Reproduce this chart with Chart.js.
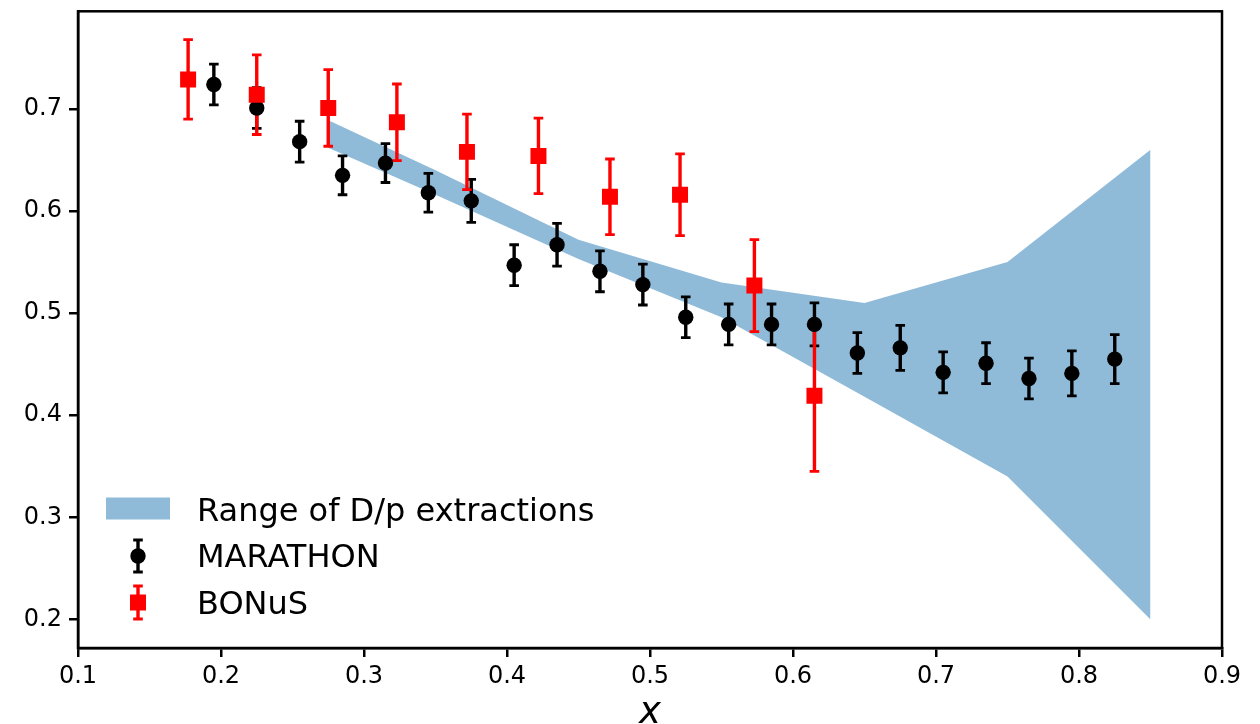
<!DOCTYPE html>
<html>
<head>
<meta charset="utf-8">
<script src="https://cdn.jsdelivr.net/npm/chart.js@4.4.1/dist/chart.umd.min.js"></script>
<style>
html,body{margin:0;padding:0;background:#fff;overflow:hidden}
canvas{display:block}
</style>
</head>
<body>
<canvas id="c" width="1260" height="724"></canvas>
<script>
// ---- data ----
const xTicks = [0.1, 0.2, 0.3, 0.4, 0.5, 0.6, 0.7, 0.8, 0.9];
const yTicks = [0.2, 0.3, 0.4, 0.5, 0.6, 0.7];

const marathonX = [0.195, 0.225, 0.255, 0.285, 0.315, 0.345, 0.375, 0.405, 0.435, 0.465, 0.495,
                   0.525, 0.555, 0.585, 0.615, 0.645, 0.675, 0.705, 0.735, 0.765, 0.795, 0.825];
const marathonY = [0.724, 0.701, 0.668, 0.635, 0.647, 0.618, 0.610, 0.547, 0.567, 0.541, 0.528,
                   0.496, 0.489, 0.489, 0.489, 0.461, 0.466, 0.442, 0.451, 0.436, 0.441, 0.455];
const marathonErr = [0.020, 0.020, 0.020, 0.019, 0.019, 0.019, 0.021, 0.020, 0.021, 0.020, 0.020,
                     0.020, 0.020, 0.020, 0.021, 0.020, 0.022, 0.020, 0.020, 0.020, 0.022, 0.024];

const bonusX = [0.177, 0.225, 0.275, 0.323, 0.372, 0.422, 0.472, 0.521, 0.573, 0.615];
const bonusY = [0.729, 0.714, 0.701, 0.687, 0.658, 0.654, 0.614, 0.616, 0.527, 0.419];
const bonusErr = [0.039, 0.039, 0.0375, 0.0375, 0.037, 0.037, 0.037, 0.040, 0.045, 0.074];

const bandX = [0.275, 0.35, 0.45, 0.55, 0.65, 0.75, 0.85];
const bandUpper = [0.689, 0.640, 0.572, 0.530, 0.510, 0.550, 0.660];
const bandLower = [0.662, 0.616, 0.553, 0.496, 0.418, 0.340, 0.200];

const legendLabels = ['Range of D/p extractions', 'MARATHON', 'BONuS'];
const xAxisLabel = 'x';

// ---- styling ----
const BAND_COLOR = 'rgba(31,119,180,0.5)';
const FONT = 'DejaVu Sans';

const toPts = (xs, ys) => xs.map((v, i) => ({ x: v, y: ys[i] }));

function errBar(ctx, px, pt, pb) {
  ctx.lineWidth = 3.4;
  ctx.beginPath(); ctx.moveTo(px, pt); ctx.lineTo(px, pb); ctx.stroke();
  ctx.lineWidth = 2.8;
  ctx.beginPath();
  ctx.moveTo(px - 4.8, pt); ctx.lineTo(px + 4.8, pt);
  ctx.moveTo(px - 4.8, pb); ctx.lineTo(px + 4.8, pb);
  ctx.stroke();
}

function drawErrorBars(ctx, sx, sy, xs, ys, errs, color) {
  ctx.save();
  ctx.strokeStyle = color;
  ctx.lineCap = 'butt';
  for (let i = 0; i < xs.length; i++) {
    const px = sx.getPixelForValue(xs[i]);
    const pt = sy.getPixelForValue(ys[i] + errs[i]);
    const pb = sy.getPixelForValue(ys[i] - errs[i]);
    errBar(ctx, px, pt, pb);
  }
  ctx.restore();
}

const customPlugin = {
  id: 'custom',
  beforeDatasetDraw(chart, args) {
    if (args.index !== 1) return;
    const { ctx, scales: { x, y } } = chart;
    drawErrorBars(ctx, x, y, marathonX, marathonY, marathonErr, '#000');
    drawErrorBars(ctx, x, y, bonusX, bonusY, bonusErr, '#ff0000');
  },
  afterDraw(chart) {
    const { ctx, chartArea: a } = chart;
    ctx.save();
    // frame
    ctx.strokeStyle = '#000';
    ctx.lineWidth = 2.5;
    ctx.strokeRect(a.left, a.top, a.right - a.left, a.bottom - a.top);

    // legend
    const lx = a.left + 28;
    const mx = a.left + 60;
    const tx = a.left + 119;
    ctx.fillStyle = BAND_COLOR;
    ctx.fillRect(lx, 497.5, 64, 22);
    // MARATHON legend marker
    const my = 556;
    ctx.strokeStyle = '#000';
    errBar(ctx, mx, my - 16, my + 16);
    ctx.fillStyle = '#000';
    ctx.beginPath(); ctx.arc(mx, my, 7.7, 0, Math.PI * 2); ctx.fill();
    // BONuS legend marker
    const by = 602.5;
    ctx.strokeStyle = '#ff0000';
    errBar(ctx, mx, by - 16.5, by + 16.5);
    ctx.fillStyle = '#ff0000';
    ctx.fillRect(mx - 8, by - 8, 16, 16);

    ctx.fillStyle = '#000';
    ctx.font = '32px "' + FONT + '"';
    ctx.textAlign = 'left';
    ctx.textBaseline = 'alphabetic';
    ctx.fillText(legendLabels[0], tx, 520.5);
    ctx.fillText(legendLabels[1], tx, 567);
    ctx.fillText(legendLabels[2], tx, 614);

    // x axis label
    ctx.font = 'italic 37px "' + FONT + '"';
    ctx.textAlign = 'center';
    ctx.fillText(xAxisLabel, (a.left + a.right) / 2, 723);
    ctx.restore();
  }
};

const tickFont = { family: FONT, size: 24 };

new Chart(document.getElementById('c').getContext('2d'), {
  type: 'scatter',
  data: {
    datasets: [
      {
        label: legendLabels[2],
        data: toPts(bonusX, bonusY),
        pointStyle: 'rect',
        pointRadius: 11.3,
        pointHoverRadius: 11.3,
        backgroundColor: '#ff0000',
        borderColor: '#ff0000',
        pointBorderWidth: 0,
        borderWidth: 0
      },
      {
        label: legendLabels[1],
        data: toPts(marathonX, marathonY),
        pointStyle: 'circle',
        pointRadius: 7.7,
        pointHoverRadius: 7.7,
        backgroundColor: '#000',
        borderColor: '#000',
        pointBorderWidth: 0,
        borderWidth: 0
      },
      {
        label: 'upper',
        type: 'line',
        data: toPts(bandX, bandUpper),
        borderColor: 'rgba(0,0,0,0)',
        borderWidth: 1,
        pointRadius: 0,
        tension: 0,
        fill: false
      },
      {
        label: legendLabels[0],
        type: 'line',
        data: toPts(bandX, bandLower),
        borderColor: 'rgba(0,0,0,0)',
        backgroundColor: BAND_COLOR,
        borderWidth: 1,
        pointRadius: 0,
        tension: 0,
        fill: '-1'
      }
    ]
  },
  options: {
    responsive: false,
    animation: false,
    devicePixelRatio: 1,
    layout: { padding: { left: 0, top: 9, right: 38, bottom: 0 } },
    plugins: {
      legend: { display: false },
      tooltip: { enabled: false }
    },
    scales: {
      x: {
        type: 'linear',
        position: 'bottom',
        min: 0.1,
        max: 0.9,
        afterBuildTicks: s => { s.ticks = xTicks.map(v => ({ value: v })); },
        afterFit: s => { s.height = 76; s.paddingLeft = 0; s.paddingRight = 0; },
        ticks: {
          color: '#000',
          font: tickFont,
          padding: 5,
          maxRotation: 0,
          autoSkip: false,
          callback: v => Number(v).toFixed(1)
        },
        grid: { drawOnChartArea: false, drawTicks: true, tickLength: 9, color: '#000', lineWidth: 2.5 },
        border: { display: true, color: '#000', width: 2.5 }
      },
      y: {
        type: 'linear',
        position: 'left',
        min: 0.172,
        max: 0.7957,
        afterBuildTicks: s => { s.ticks = yTicks.map(v => ({ value: v })); },
        afterFit: s => { s.width = 78; s.paddingTop = 0; s.paddingBottom = 0; },
        ticks: {
          color: '#000',
          font: tickFont,
          padding: 7,
          autoSkip: false,
          callback: v => Number(v).toFixed(1)
        },
        grid: { drawOnChartArea: false, drawTicks: true, tickLength: 9, color: '#000', lineWidth: 2.5 },
        border: { display: true, color: '#000', width: 2.5 }
      }
    }
  },
  plugins: [customPlugin]
});
</script>
</body>
</html>
